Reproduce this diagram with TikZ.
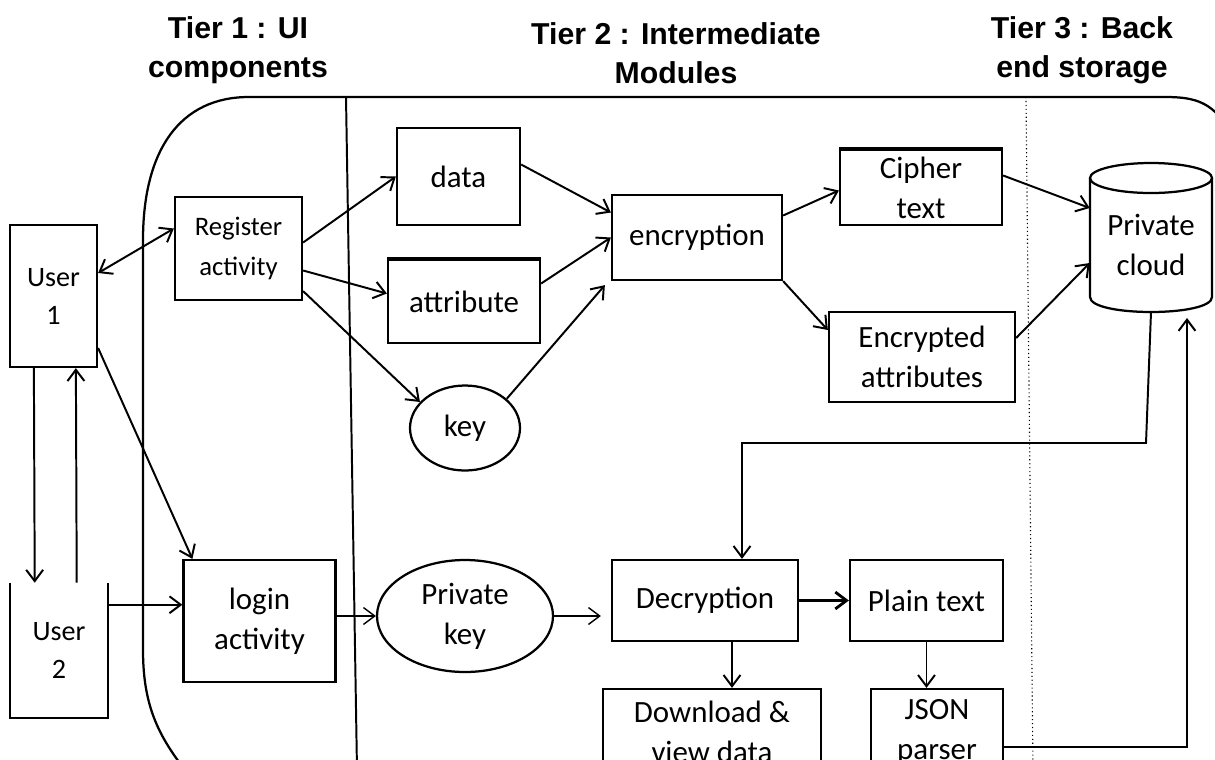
\documentclass[tikz,border=0pt]{standalone}
\usepackage{fontspec}
\setmainfont{Carlito}
\newfontfamily\hdfont{Liberation Sans}
\usetikzlibrary{arrows.meta,calc,shapes.geometric}
\begin{document}
\begin{tikzpicture}[x=0.025cm,y=-0.025cm,
  every node/.style={font=\fontsize{22}{28.5}\selectfont, align=center},
  lw/.style={line width=1.6pt},
  box/.style={draw, line width=1.6pt, rectangle, inner sep=0pt},
  oval/.style={draw, line width=1.6pt, ellipse, inner sep=0pt},
  sz/.style 2 args={minimum width=#1*0.025cm, minimum height=#2*0.025cm},
  arr/.style={line width=1.4pt, -{Straight Barb[length=8pt,width=12pt]}},
  darr/.style={line width=1.4pt, {Straight Barb[length=8pt,width=12pt]}-{Straight Barb[length=8pt,width=12pt]}},
  hdr/.style={font=\hdfont\bfseries\fontsize{21.5}{27.5}\selectfont, align=center}]
\useasboundingbox (0,0) rectangle (1215,759);
\clip (0,0) rectangle (1215,759);

% headers
\node[hdr] (h1) at (238,50) {Tier 1 : UI\\components};
\node[hdr] (h2) at (676,53) {Tier 2 : Intermediate\\Modules};
\node[hdr] (h3) at (1082,50) {Tier 3 : Back\\end storage};

% container and separators
\draw[lw] (1260,260) .. controls (1240,110) and (1215,97) .. (1165,97) -- (249,97)
  .. controls (180,97) and (143,150) .. (143,240) -- (143,650)
  .. controls (143,705) and (158,735) .. (185,770);
\draw[line width=1.4pt] (346,97) -- (357,770);
\draw[line width=0.8pt, dotted] (1026,97) -- (1033,770);

% users
\node[box, sz={87}{142}, font=\fontsize{20}{27}\selectfont] (u1) at (53.5,296) {User\\1};
\node[sz={98}{135}, inner sep=0pt, font=\fontsize{20}{27}\selectfont] (u2) at (59,650.5) {User\\2};
\draw[lw] (u2.north west) -- (u2.south west) -- (u2.south east) -- (u2.north east);

% tier 1
\node[box, sz={127}{103}, font=\fontsize{19}{28}\selectfont] (reg) at (238.5,248.5) {Register\\activity};
\node[box, sz={152}{122}] (login) at (259.5,621) {login\\activity};

% tier 2
\node[box, sz={123}{97}] (data) at (458.5,176.5) {data};
\node[box, sz={152}{83}] (attr) at (464,301.5) {attribute};
\draw[line width=3pt] (attr.north west) -- (attr.north east);
\node[oval, sz={110}{85}] (key) at (465,428) {key};
\node[box, sz={170}{85}] (enc) at (697,237.5) {encryption};
\node[box, sz={162}{75}] (ciph) at (921,187.5) {Cipher\\text};
\draw[line width=3pt] (ciph.north west) -- (ciph.north east);
\node[box, sz={186}{90}] (enca) at (922,357) {Encrypted\\attributes};
\node[oval, sz={176}{112}] (pkey) at (465,616) {Private\\key};
\node[box, sz={186}{81}] (dec) at (705,600.5) {Decryption};
\node[box, sz={153}{81}] (plain) at (926.5,600.5) {Plain text};
\node[box, sz={218}{86}] (dl) at (712,732) {Download \&\\view data};
\node[box, sz={132}{86}] (json) at (937,732) {JSON\\parser};

% tier 3: cylinder
\node[sz={122}{134}, inner sep=0pt] (cloud) at (1151,245) {Private\\cloud};
\draw[lw] (1151,178) ellipse [x radius=1.525cm, y radius=0.375cm];
\draw[lw] (1090,178) -- (1090,297) .. controls (1090,317) and (1212,317) .. (1212,297) -- (1212,178);

% connectors
\draw[darr] ($(u1.east)+(0,-23)$) -- ($(reg.west)+(0,-20)$);
\draw[arr] ($(u1.east)+(0,52)$) -- ($(login.north west)+(10,0)$);
\draw[arr] ($(u1.south west)+(25,0)$) -- ($(u2.north west)+(25,0)$);
\draw[arr] ($(u2.north west)+(67,0)$) -- ($(u1.south west)+(67,0)$);
\draw[arr] ($(u2.north east)+(0,22)$) coordinate (t1) -- (t1 -| login.west);

\draw[arr] ($(reg.east)+(0,-6)$) -- (data.west);
\draw[arr] ($(reg.east)+(0,22)$) -- ($(attr.west)+(0,-8)$);
\draw[arr] ($(reg.south east)+(0,-10)$) -- (key.150);

\draw[arr] ($(data.east)+(0,-12)$) -- ($(enc.west)+(0,-25)$);
\draw[arr] ($(attr.east)+(0,-18)$) -- (enc.west);
\draw[arr] (key.35) -- ($(enc.south west)+(-6,4)$);
\draw[arr] ($(enc.east)+(0,-22)$) -- ($(ciph.west)+(0,3)$);
\draw[arr] (enc.south east) -- ($(enca.west)+(0,-27)$);
\draw[arr] ($(ciph.east)+(0,-12)$) -- ($(cloud.west)+(0,-37)$);
\draw[arr] ($(enca.east)+(0,-19)$) -- ($(cloud.west)+(0,18)$);

\draw[arr, line width=1pt] (login.east |- pkey.west) -- (pkey.west);
\draw[arr, line width=1pt] (pkey.east) -- ($(dec.west |- pkey.east)+(-10,0)$);
\draw[arr, line width=2pt] (dec.east) -- (plain.west);
\draw[arr] ($(dec.south)+(27,0)$) coordinate (t2) -- (t2 |- dl.north);
\draw[arr] (plain.south) -- (plain.south |- json.north);

\coordinate (cb) at (1151,312);
\coordinate (c1) at (1146,443);
\draw[arr] (cb) -- (c1) -| ($(dec.north)+(37,0)$);
\coordinate (cr) at (1187,318);
\draw[arr] ($(json.east)+(0,15)$) -| (cr);
\end{tikzpicture}
\end{document}
